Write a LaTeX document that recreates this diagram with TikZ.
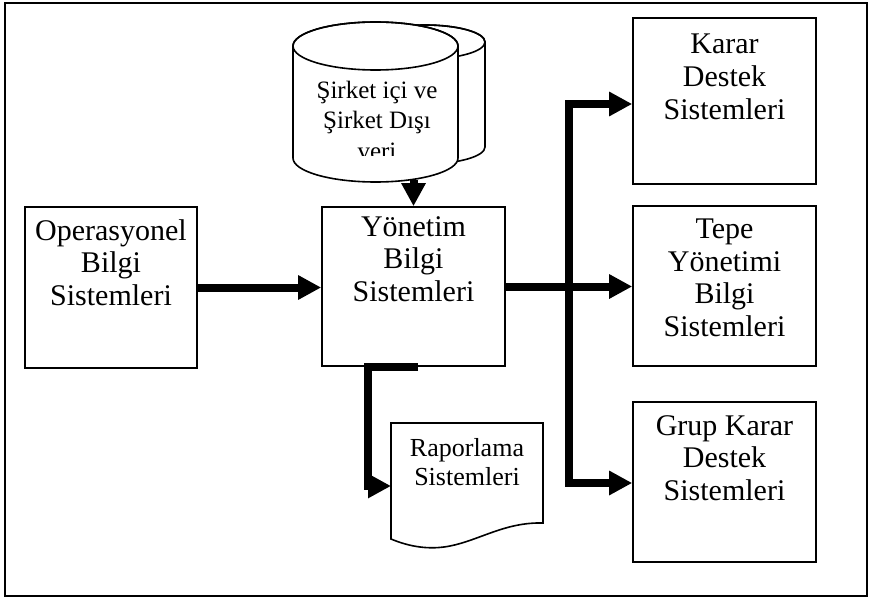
\documentclass[tikz,border=0pt]{standalone}
\usepackage{fontspec}
\setmainfont{Liberation Serif}
\usetikzlibrary{arrows.meta}
\begin{document}
\begin{tikzpicture}[x=1pt,y=-1pt,
  box/.style={draw, line width=1.6pt, inner sep=0pt},
  tipT/.tip={Triangle[length=23pt,width=23pt]},
  flow/.style={line width=8pt, -tipT, line join=miter},
  biflow/.style={line width=8pt, tipT-tipT, line join=miter},
  lbl/.style={align=center, font=\fontsize{30}{32.5}\selectfont, inner sep=0pt, anchor=base},
  slbl/.style={align=center, font=\fontsize{25}{30.5}\selectfont, inner sep=0pt, anchor=base},
  rlbl/.style={align=center, font=\fontsize{26}{28.5}\selectfont, inner sep=0pt, anchor=base}]
\useasboundingbox (0,0) rectangle (869,599);
\draw[line width=1.6pt] (5,3) rectangle (867,596);

% boxes
\node[box, minimum width=172pt, minimum height=161pt] (op) at (111,287.5) {};
\node[box, minimum width=183pt, minimum height=159pt] (yon) at (413.5,286.5) {};
\node[box, minimum width=183pt, minimum height=166pt] (karar) at (724.5,101) {};
\node[box, minimum width=183pt, minimum height=160pt] (tepe) at (724.5,286) {};
\node[box, minimum width=183pt, minimum height=160pt] (grup) at (724.5,482) {};

\node[lbl] (opt) at (111,305) {Operasyonel\\Bilgi\\Sistemleri};
\node[lbl] (yont) at (413.5,301) {Yönetim\\Bilgi\\Sistemleri};
\node[lbl] (karart) at (724.5,119) {Karar\\Destek\\Sistemleri};
\node[lbl] (tepet) at (724.5,336) {Tepe\\Yönetimi\\Bilgi\\Sistemleri};
\node[lbl] (grupt) at (724.5,500) {Grup Karar\\Destek\\Sistemleri};

% database (two cylinders)
\filldraw[line width=1.6pt, fill=white] (365,42) -- (365,147)
  arc[start angle=180, end angle=360, x radius=60pt, y radius=17pt]
  -- (485,42) arc[start angle=0, end angle=180, x radius=60pt, y radius=17pt] -- cycle;
\draw[line width=1.6pt] (425,42) ellipse[x radius=60pt, y radius=17pt];
\filldraw[line width=1.6pt, fill=white] (293,46) -- (293,158)
  arc[start angle=180, end angle=360, x radius=82.5pt, y radius=24pt]
  -- (458,46) arc[start angle=0, end angle=180, x radius=82.5pt, y radius=24pt] -- cycle;
\draw[line width=1.6pt] (375.5,46) ellipse[x radius=82.5pt, y radius=24pt];
\begin{scope}
  \clip (293,60) rectangle (458,155);
  \node[slbl] (cylt) at (377,159) {Şirket içi ve\\Şirket Dışı\\veri};
\end{scope}

% document
\filldraw[line width=1.6pt, fill=white] (391,423) -- (543,423) -- (543,523)
  .. controls (505,522) and (480,540) .. (450,546)
  .. controls (430,550) and (410,547) .. (391,539) -- cycle;
\node[rlbl] (rapt) at (467,485) {Raporlama\\Sistemleri};
\coordinate (rapw) at (391,486);

% connectors
\coordinate (cylb) at (413.5,180);
\draw[flow] (cylb) -- (yon.north);
\draw[flow] (op.east) -- (op.east -| yon.west);
\draw[flow] (yon.east) -- (yon.east -| tepe.west);
\coordinate (bustop) at (569,104);
\coordinate (busbot) at (569,483);
\draw[biflow] (bustop -| karar.west) -- (bustop) -- (busbot) -- (busbot -| grup.west);
\coordinate (rs) at (418,366.5);
\draw[flow] (rs) -- (368,366.5) -- (368,486) -- (rapw);
\end{tikzpicture}
\end{document}
